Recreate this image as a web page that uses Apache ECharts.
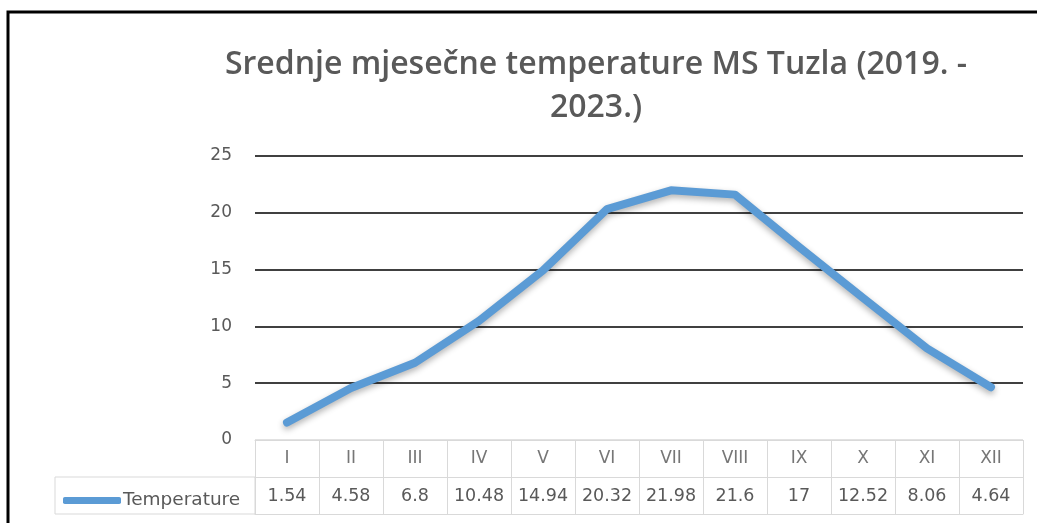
<!DOCTYPE html>
<html>
<head>
<meta charset="utf-8">
<script src="https://cdn.jsdelivr.net/npm/echarts@6/dist/echarts.min.js"></script>
<style>
  html, body { margin: 0; padding: 0; background: #fff; }
  #chart { width: 1037px; height: 523px; }
</style>
</head>
<body>
<div id="chart"></div>
<script>
const months = ['I', 'II', 'III', 'IV', 'V', 'VI', 'VII', 'VIII', 'IX', 'X', 'XI', 'XII'];
const temperature = [1.54, 4.58, 6.8, 10.48, 14.94, 20.32, 21.98, 21.6, 17, 12.52, 8.06, 4.64];
const yTicks = [0, 5, 10, 15, 20, 25];
const seriesName = 'Temperature';
const titleText = 'Srednje mjesečne temperature MS Tuzla (2019. -\n2023.)';

const grey = '#595959';
const cellLine = '#d9d9d9';
const tableFont = 'DejaVu Sans';

const chart = echarts.init(document.getElementById('chart'), null, { renderer: 'canvas' });

chart.setOption({
  animation: false,
  backgroundColor: '#fff',
  title: {
    text: titleText,
    left: 591,
    top: 38,
    textAlign: 'center',
    textStyle: {
      fontFamily: 'Open Sans',
      fontSize: 32,
      fontWeight: 600,
      color: grey,
      lineHeight: 43
    }
  },
  legend: {
    left: 58,
    top: 486,
    icon: 'roundRect',
    itemWidth: 58,
    itemHeight: 7,
    data: [seriesName],
    textStyle: { fontFamily: tableFont, fontSize: 18.5, color: grey, padding: [0, 0, 0, -3] }
  },
  grid: { left: 255, right: 14, top: 156, bottom: 83 },
  xAxis: [
    {
      type: 'category',
      data: months,
      position: 'bottom',
      axisLine: { show: true, lineStyle: { color: cellLine, width: 1 } },
      axisTick: { show: true, length: 74, lineStyle: { color: cellLine } },
      axisLabel: { interval: 0, margin: 10, fontFamily: tableFont, fontSize: 17, color: '#767676' }
    },
    {
      type: 'category',
      data: months,
      position: 'bottom',
      offset: 37,
      axisLine: { show: true, lineStyle: { color: cellLine, width: 1 } },
      axisTick: { show: false },
      axisLabel: {
        interval: 0, margin: 10, fontFamily: tableFont, fontSize: 17.5, color: grey,
        formatter: (v, i) => String(temperature[i])
      }
    },
    {
      type: 'category',
      data: months,
      position: 'bottom',
      offset: 74,
      axisLine: { show: true, lineStyle: { color: cellLine, width: 1 } },
      axisTick: { show: false },
      axisLabel: { show: false }
    }
  ],
  yAxis: {
    type: 'value',
    min: yTicks[0],
    max: yTicks[yTicks.length - 1],
    interval: 5,
    axisLine: { show: false },
    axisTick: { show: false },
    axisLabel: { margin: 23, fontFamily: tableFont, fontSize: 17, color: grey },
    splitLine: {
      show: true,
      lineStyle: { color: [cellLine, '#000', '#000', '#000', '#000', '#000'], width: 1.5 }
    }
  },
  series: [
    {
      name: seriesName,
      type: 'line',
      data: temperature,
      symbol: 'none',
      smooth: false,
      itemStyle: { color: '#5B9BD5' },
      lineStyle: {
        color: '#5B9BD5',
        width: 8,
        cap: 'round',
        join: 'round',
        shadowColor: 'rgba(0,0,0,0.3)',
        shadowBlur: 6,
        shadowOffsetY: 3
      }
    }
  ],
  graphic: [
    // chart frame (top and left edges)
    {
      type: 'polyline',
      shape: { points: [[8, 523], [8, 12], [1037, 12]] },
      style: { stroke: '#000', lineWidth: 3, fill: null }
    },
    // legend cell of the data table
    {
      type: 'rect',
      shape: { x: 55, y: 477, width: 200, height: 37 },
      style: { stroke: cellLine, lineWidth: 1, fill: null },
      z: -1
    }
  ]
});
</script>
</body>
</html>
